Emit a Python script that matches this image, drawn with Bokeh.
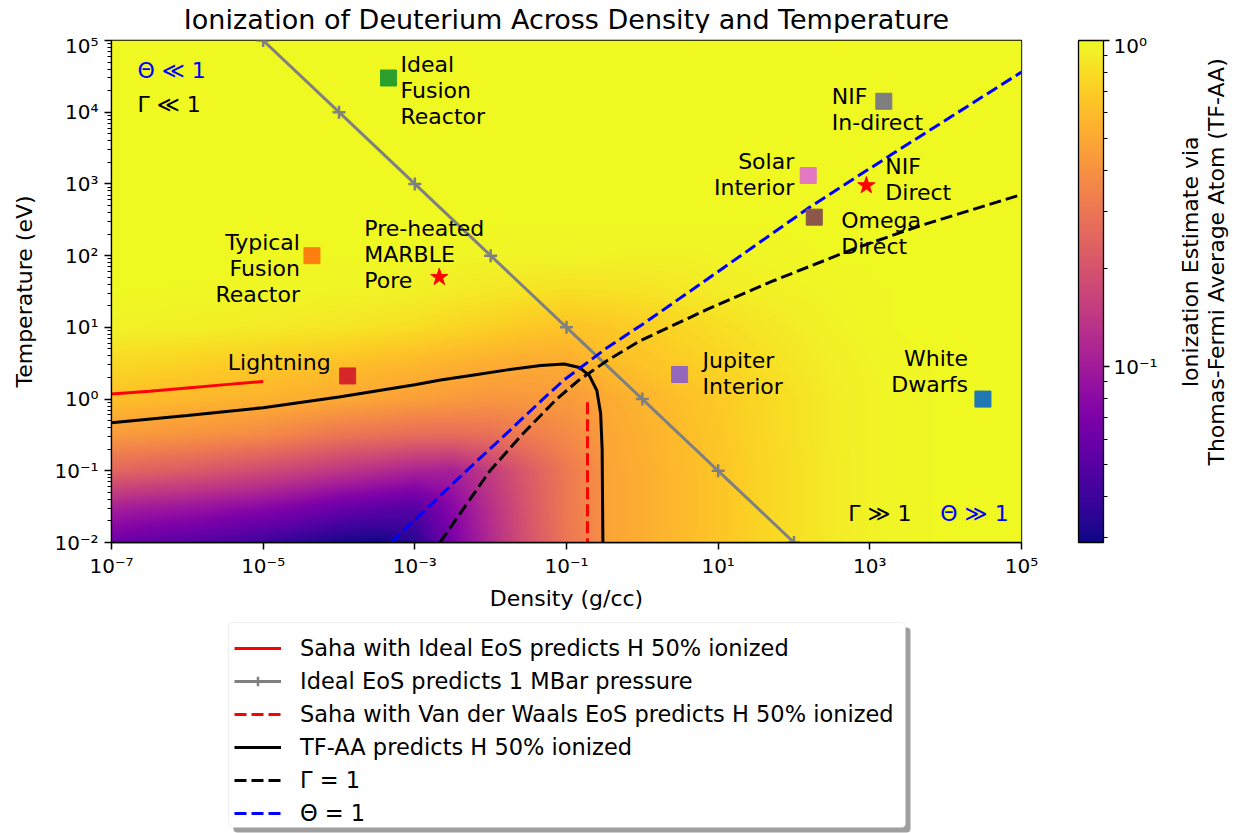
import numpy as np
from bokeh.plotting import figure
from bokeh.layouts import row, column
from bokeh.models import (LogColorMapper, ColorBar, FixedTicker, CustomJSTickFormatter,
                          Legend, LegendItem, BoxAnnotation, Range1d)
from bokeh.palettes import Plasma256
from bokeh.core.properties import value
from bokeh.embed import file_html
from bokeh.resources import INLINE

FONT = "DejaVu Sans"

# ---------------------------------------------------------------------------
# TF-AA ionization sampled on a grid (rows: log10 temperature, cols: log10 density)
# ---------------------------------------------------------------------------
log_rho_nodes = [-7, -6.5, -6, -5.5, -5, -4.5, -4, -3.5, -3, -2.5, -2, -1.5, -1, -0.75, -0.55,
                 -0.5, 0, 0.5, 1, 1.5, 2, 2.5, 3, 3.5, 4, 4.5, 5]
log_T_nodes = [-2, -1.5, -1, -0.5, 0, 0.5, 1, 1.5, 2, 2.5, 3, 3.5, 4, 4.5, 5]

ion_T_m2_0 = [0.060, 0.055, 0.050, 0.045, 0.040, 0.035, 0.031, 0.029, 0.034, 0.068, 0.12, 0.20, 0.30,
              0.34, 0.38, 0.48, 0.53, 0.59, 0.65, 0.73, 0.81, 0.89, 0.95, 0.98, 0.99, 1.0, 1.0]
ion_T_m1_5 = [0.11, 0.10, 0.095, 0.087, 0.080, 0.070, 0.060, 0.054, 0.050, 0.078, 0.13, 0.21, 0.31,
              0.35, 0.39, 0.48, 0.53, 0.59, 0.65, 0.73, 0.81, 0.89, 0.95, 0.98, 0.99, 1.0, 1.0]
ion_T_m1_0 = [0.25, 0.235, 0.22, 0.20, 0.18, 0.16, 0.14, 0.125, 0.11, 0.105, 0.15, 0.22, 0.31,
              0.35, 0.39, 0.48, 0.53, 0.59, 0.65, 0.73, 0.81, 0.89, 0.95, 0.98, 0.99, 1.0, 1.0]
ion_T_m0_5 = [0.44, 0.425, 0.41, 0.39, 0.37, 0.335, 0.30, 0.285, 0.27, 0.27, 0.28, 0.32, 0.37,
              0.40, 0.43, 0.49, 0.54, 0.60, 0.66, 0.74, 0.82, 0.90, 0.95, 0.98, 0.99, 1.0, 1.0]
ion_T_0_0 = [0.62, 0.60, 0.58, 0.565, 0.55, 0.53, 0.51, 0.485, 0.46, 0.44, 0.42, 0.43, 0.44,
             0.46, 0.48, 0.51, 0.56, 0.62, 0.68, 0.75, 0.82, 0.90, 0.95, 0.98, 0.99, 1.0, 1.0]
ion_T_0_5 = [0.77, 0.75, 0.73, 0.70, 0.68, 0.65, 0.63, 0.60, 0.58, 0.55, 0.53, 0.51, 0.52,
             0.56, 0.59, 0.60, 0.64, 0.69, 0.74, 0.80, 0.86, 0.92, 0.96, 0.98, 0.99, 1.0, 1.0]
ion_T_1_0 = [0.95, 0.94, 0.93, 0.92, 0.90, 0.88, 0.86, 0.83, 0.80, 0.75, 0.71, 0.67, 0.64,
             0.65, 0.66, 0.66, 0.70, 0.75, 0.80, 0.85, 0.90, 0.95, 0.98, 0.99, 1.0, 1.0, 1.0]
ion_T_1_5 = [0.99, 0.99, 0.98, 0.98, 0.97, 0.97, 0.96, 0.95, 0.93, 0.90, 0.87, 0.84, 0.81,
             0.815, 0.82, 0.82, 0.84, 0.87, 0.90, 0.93, 0.95, 0.97, 0.98, 0.99, 1.0, 1.0, 1.0]
ion_T_2_0 = [1.0, 1.0, 1.0, 1.0, 0.99, 0.99, 0.99, 0.99, 0.98, 0.97, 0.96, 0.96, 0.97,
             0.965, 0.96, 0.96, 0.95, 0.95, 0.96, 0.97, 0.98, 0.99, 0.99, 1.0, 1.0, 1.0, 1.0]
ion_T_2_5 = [1.0, 1.0, 1.0, 1.0, 1.0, 1.0, 1.0, 1.0, 1.0, 1.0, 0.995, 0.99, 0.99,
             0.99, 0.99, 0.99, 0.99, 0.99, 0.99, 0.99, 0.995, 1.0, 1.0, 1.0, 1.0, 1.0, 1.0]
ion_T_3_0 = [1.0] * 27
ion_T_3_5 = [1.0] * 27
ion_T_4_0 = [1.0] * 27
ion_T_4_5 = [1.0] * 27
ion_T_5_0 = [1.0] * 27

ion_rows = [ion_T_m2_0, ion_T_m1_5, ion_T_m1_0, ion_T_m0_5, ion_T_0_0, ion_T_0_5, ion_T_1_0,
            ion_T_1_5, ion_T_2_0, ion_T_2_5, ion_T_3_0, ion_T_3_5, ion_T_4_0, ion_T_4_5, ion_T_5_0]

# ---------------------------------------------------------------------------
# Curves (density g/cc, temperature eV)
# ---------------------------------------------------------------------------
saha_ideal_rho = [1e-7, 10**-6.5, 1e-6, 10**-5.5, 1e-5]
saha_ideal_T = [1.18, 1.29, 1.43, 1.59, 1.76]

mbar_rho = [1e-5, 1e-4, 1e-3, 1e-2, 1e-1, 1e0, 1e1, 1e2]
mbar_T = [1e5, 1e4, 1e3, 1e2, 1e1, 1e0, 1e-1, 1e-2]

saha_vdw_rho = [0.189, 0.189]
saha_vdw_T = [0.90, 0.01]

tfaa_log_rho = [-7, -6, -5, -4, -3, -2.66, -2.22, -1.78, -1.34, -1.03, -0.83, -0.70, -0.60,
                -0.55, -0.53, -0.52]
tfaa_log_T = [-0.33, -0.23, -0.12, 0.03, 0.20, 0.265, 0.337, 0.407, 0.467, 0.49, 0.44,
              0.33, 0.12, -0.20, -0.70, -2.0]

gamma_log_rho = [-2.67, -2.34, -2.01, -1.59, -1.13, -0.845, -0.463, -0.024, 0.855, 1.73, 2.79, 3.67, 5.0]
gamma_log_T = [-2.0, -1.5, -1.0, -0.5, 0.0, 0.258, 0.537, 0.816, 1.25, 1.65, 2.095, 2.42, 2.852]

theta_log_rho = [-3.31, -2.32, -1.81, -1.31, -1.04, -0.46, 0.0, 0.8, 2.2, 3.3, 5.0]
theta_log_T = [-2.0, -1.0, -0.5, 0.0, 0.26, 0.72, 1.04, 1.63, 2.67, 3.42, 4.56]

tfaa_rho = [10 ** v for v in tfaa_log_rho]
tfaa_T = [10 ** v for v in tfaa_log_T]
gamma_rho = [10 ** v for v in gamma_log_rho]
gamma_T = [10 ** v for v in gamma_log_T]
theta_rho = [10 ** v for v in theta_log_rho]
theta_T = [10 ** v for v in theta_log_T]

# ---------------------------------------------------------------------------
# Reference plasmas
# ---------------------------------------------------------------------------
site_names = ["White Dwarfs", "Typical Fusion Reactor", "Ideal Fusion Reactor", "Lightning",
              "Jupiter Interior", "Omega Direct", "Solar Interior", "NIF In-direct"]
site_labels = ["White\nDwarfs", "Typical\nFusion\nReactor", "Ideal\nFusion\nReactor", "Lightning",
               "Jupiter\nInterior", "Omega\nDirect", "Solar\nInterior", "NIF\nIn-direct"]
site_rho = [3.1e4, 4.4e-5, 4.5e-4, 1.3e-4, 3.1, 185, 154, 1530]
site_T = [1.0, 100, 3.0e4, 2.1, 2.2, 344, 1310, 1.42e4]
site_colors = ["#1f77b4", "#ff7f0e", "#2ca02c", "#d62728", "#9467bd", "#8c564b", "#e377c2", "#7f7f7f"]

star_names = ["Pre-heated MARBLE Pore", "NIF Direct"]
star_labels = ["Pre-heated\nMARBLE\nPore", "NIF\nDirect"]
star_rho = [2.1e-3, 900]
star_T = [50, 950]

# label placement (pixel offsets from each marker; y positive = down)
site_align = ["right", "right", "left", "right", "left", "left", "right", "left"]
site_dx = [-15, -12, 12, -17, 23, 27, -14, -52]
site_dy = [-28, 13, 13, -13, -1, 16, -1, 8]
star_dx = [-75, 19]
star_dy = [-23, -6]

TITLE = "Ionization of Deuterium Across Density and Temperature"
CBAR_LABEL = ["Ionization Estimate via", "Thomas-Fermi Average Atom (TF-AA)"]
lw = 3
dash = "12 5"

# ---------------------------------------------------------------------------
# Title strip
# ---------------------------------------------------------------------------
ttl = figure(width=1236, height=33, x_range=Range1d(0, 1236), y_range=Range1d(0, 33),
             x_axis_location=None, y_axis_location=None, toolbar_location=None,
             output_backend="svg", min_border=0, outline_line_color=None)
ttl.grid.visible = False
ttl.text(x=[566], y=[14.5], text=[TITLE], text_align="center", text_baseline="middle",
         text_font=value(FONT), text_font_size="27px", text_color="black")

# ---------------------------------------------------------------------------
# Main figure
# ---------------------------------------------------------------------------
p = figure(width=1165, height=585, x_axis_type="log", y_axis_type="log",
           x_range=Range1d(1e-7, 1e5), y_range=Range1d(1e-2, 1e5),
           output_backend="svg", toolbar_location=None,
           min_border_left=111, min_border_right=144, min_border_top=7, min_border_bottom=76)
p.grid.visible = False
p.outline_line_color = "black"
p.outline_line_width = 1.3

mapper = LogColorMapper(palette=Plasma256, low=0.0289, high=1.0)

# smooth the sampled grid onto a display raster (log-space, uniform in log coordinates)
nx, ny = 910, 502
xs = -7 + (np.arange(nx) + 0.5) * 12.0 / nx
ys = -2 + (np.arange(ny) + 0.5) * 7.0 / ny
zlog = np.log10(np.array(ion_rows))
tmp = np.array([np.interp(xs, log_rho_nodes, r) for r in zlog])
raster = np.array([np.interp(ys, log_T_nodes, tmp[:, j]) for j in range(nx)]).T
raster = 10 ** raster
p.image(image=[raster], x=1e-7, y=1e-2, dw=1e5 - 1e-7, dh=1e5 - 1e-2, color_mapper=mapper)


def draw_curves(fig):
    r = {}
    r["saha"] = fig.line(saha_ideal_rho, saha_ideal_T, line_color="red", line_width=lw)
    r["mbar"] = fig.line(mbar_rho, mbar_T, line_color="#808080", line_width=lw)
    r["mbar_pts"] = fig.scatter(mbar_rho, mbar_T, marker="cross", size=13,
                                line_color="#808080", line_width=2.5)
    r["vdw"] = fig.line(saha_vdw_rho, saha_vdw_T, line_color="red", line_width=lw, line_dash=dash)
    r["tfaa"] = fig.line(tfaa_rho, tfaa_T, line_color="black", line_width=lw)
    r["gamma"] = fig.line(gamma_rho, gamma_T, line_color="black", line_width=lw, line_dash=dash)
    r["theta"] = fig.line(theta_rho, theta_T, line_color="blue", line_width=lw, line_dash=dash)
    return r


draw_curves(p)

p.scatter(site_rho, site_T, marker="square", size=16, fill_color=site_colors, line_color=site_colors)
p.scatter(star_rho, star_T, marker="star", size=18, fill_color="red", line_color="red")

for align in ("left", "right"):
    idx = [i for i, a in enumerate(site_align) if a == align]
    p.text(x=[site_rho[i] for i in idx], y=[site_T[i] for i in idx],
           text=[site_labels[i] for i in idx],
           x_offset=[site_dx[i] for i in idx], y_offset=[site_dy[i] for i in idx],
           text_align=align, text_baseline="middle", text_font=value(FONT),
           text_font_size="22px", text_color="black", text_line_height=1.04)
p.text(x=star_rho, y=star_T, text=star_labels, x_offset=star_dx, y_offset=star_dy,
       text_align="left", text_baseline="middle", text_font=value(FONT),
       text_font_size="22px", text_color="black", text_line_height=1.04)

# regime annotations
regime_text = ["Θ ≪ 1", "Γ ≪ 1", "Γ ≫ 1", "Θ ≫ 1"]
regime_rho = [2.2e-7, 2.2e-7, 520, 8500]
regime_T = [3.8e4, 1.28e4, 0.0253, 0.0253]
regime_color = ["blue", "black", "black", "blue"]
p.text(x=regime_rho, y=regime_T, text=regime_text, text_color=regime_color,
       text_align="left", text_baseline="middle", text_font=value(FONT), text_font_size="22px")

# axes
sup_fmt = CustomJSTickFormatter(code="""
const sup = {"-": "\\u207b", "0": "\\u2070", "1": "\\u00b9", "2": "\\u00b2", "3": "\\u00b3",
             "4": "\\u2074", "5": "\\u2075", "6": "\\u2076", "7": "\\u2077", "8": "\\u2078", "9": "\\u2079"};
const e = Math.round(Math.log10(tick));
return "10" + String(e).split("").map(c => sup[c]).join("");
""")
x_major = [1e-7, 1e-5, 1e-3, 1e-1, 1e1, 1e3, 1e5]
y_major = [1e-2, 1e-1, 1e0, 1e1, 1e2, 1e3, 1e4, 1e5]
y_minor = [m * 10.0 ** e for e in range(-2, 5) for m in range(2, 10)]
p.xaxis.ticker = FixedTicker(ticks=x_major, minor_ticks=[])
p.yaxis.ticker = FixedTicker(ticks=y_major, minor_ticks=y_minor)
for ax in (p.xaxis, p.yaxis):
    ax.formatter = sup_fmt
    ax.major_label_text_font = FONT
    ax.major_label_text_font_size = "20px"
    ax.major_label_text_color = "black"
    ax.axis_label_text_font = FONT
    ax.axis_label_text_font_size = "22px"
    ax.axis_label_text_font_style = "normal"
    ax.axis_label_text_color = "black"
    ax.axis_line_color = "black"
    ax.axis_line_width = 1.3
    ax.major_tick_out = 7
    ax.major_tick_in = 0
    ax.major_tick_line_width = 1.5
    ax.major_tick_line_color = "black"
    ax.minor_tick_out = 4
    ax.minor_tick_in = 0
    ax.minor_tick_line_width = 1.2
    ax.minor_tick_line_color = "black"
p.xaxis.axis_label = "Density (g/cc)"
p.yaxis.axis_label = "Temperature (eV)"
p.xaxis.major_label_standoff = 4
p.xaxis.axis_label_standoff = 5
p.yaxis.major_label_standoff = 6
p.yaxis.axis_label_standoff = 14

# colour bar
cb_minor = [0.03, 0.04, 0.05, 0.06, 0.07, 0.08, 0.09, 0.2, 0.3, 0.4, 0.5, 0.6, 0.7, 0.8, 0.9]
cbar = ColorBar(color_mapper=mapper, ticker=FixedTicker(ticks=[0.1, 1.0], minor_ticks=cb_minor),
                formatter=sup_fmt, width=25, height=502, location=(57, 0), padding=0, margin=0,
                bar_line_color="black", bar_line_width=1.3, border_line_color=None,
                background_fill_color=None,
                major_tick_out=6, major_tick_in=0, major_tick_line_color="black", major_tick_line_width=1.5,
                minor_tick_out=4, minor_tick_in=0, minor_tick_line_color="black", minor_tick_line_width=1.2,
                major_label_text_font=FONT, major_label_text_font_size="20px",
                major_label_text_color="black", label_standoff=4)
p.add_layout(cbar, "right")

# ---------------------------------------------------------------------------
# Colour-bar caption strip (rotated two-line label)
# ---------------------------------------------------------------------------
cap = figure(width=71, height=585, x_range=Range1d(0, 71), y_range=Range1d(0, 585),
             x_axis_location=None, y_axis_location=None, toolbar_location=None,
             output_backend="svg", min_border=0, outline_line_color=None)
cap.grid.visible = False
cap.text(x=[25, 51], y=[327, 327], text=CBAR_LABEL,
         angle=np.pi / 2, text_align="center", text_baseline="middle",
         text_font=value(FONT), text_font_size="22px", text_color="black")

# ---------------------------------------------------------------------------
# Legend panel with a drop shadow (curves drawn off-range, used only as legend glyphs)
# ---------------------------------------------------------------------------
X0 = 1e6
leg = figure(width=1236, height=215, x_range=Range1d(X0, X0 + 1236), y_range=Range1d(0, 215),
             x_axis_location=None, y_axis_location=None, toolbar_location=None,
             output_backend="svg", min_border=0, outline_line_color=None)
leg.grid.visible = False
leg.add_layout(BoxAnnotation(left=X0 + 233, right=X0 + 910, bottom=1, top=206, fill_color="#7f7f7f",
                             fill_alpha=0.75, line_color=None, border_radius=4))
leg.add_layout(BoxAnnotation(left=X0 + 228, right=X0 + 905, bottom=6, top=211, fill_color="white",
                             fill_alpha=1.0, line_color="#cccccc", line_width=1, border_radius=4))
g = draw_curves(leg)
legend = Legend(items=[
    LegendItem(label="Saha with Ideal EoS predicts H 50% ionized", renderers=[g["saha"]]),
    LegendItem(label="Ideal EoS predicts 1 MBar pressure", renderers=[g["mbar"], g["mbar_pts"]]),
    LegendItem(label="Saha with Van der Waals EoS predicts H 50% ionized", renderers=[g["vdw"]]),
    LegendItem(label="TF-AA predicts H 50% ionized", renderers=[g["tfaa"]]),
    LegendItem(label="Γ = 1", renderers=[g["gamma"]]),
    LegendItem(label="Θ = 1", renderers=[g["theta"]]),
], location=(234, 7), margin=0, padding=8, spacing=7, glyph_width=47, glyph_height=24,
    label_height=24, label_standoff=19, label_text_font=FONT, label_text_font_size="22.5px",
    label_text_color="black", border_line_color=None, background_fill_alpha=0.0)
leg.add_layout(legend, "center")

layout = column(ttl, row(p, cap), leg)
open("out.html", "w").write(file_html(layout, INLINE))
